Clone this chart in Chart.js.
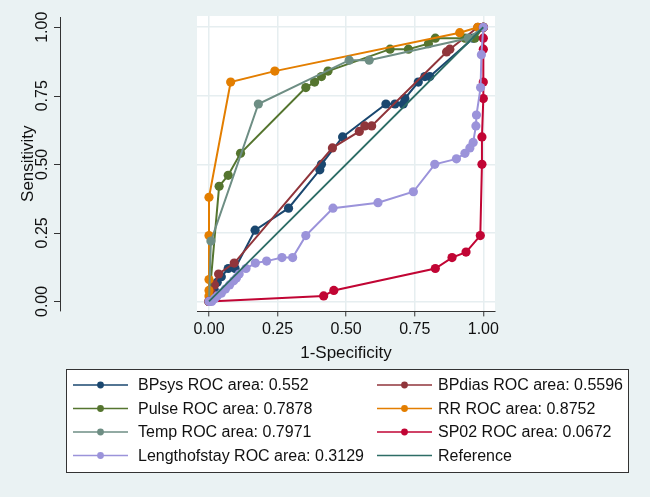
<!DOCTYPE html>
<html>
<head>
<meta charset="utf-8">
<title>ROC comparison</title>
<script src="https://cdn.jsdelivr.net/npm/chart.js@4.4.0/dist/chart.umd.min.js"></script>
<style>
  html, body { margin: 0; padding: 0; background: #eaf2f3; }
  #roc { display: block; }
</style>
</head>
<body>
<canvas id="roc" width="650" height="497"></canvas>
<script>
// ==== DATA ====
const seriesNames = ["BPsys", "BPdias", "Pulse", "RR", "Temp", "SP02", "Lengthofstay"];
const rocAreas = ["0.552", "0.5596", "0.7878", "0.8752", "0.7971", "0.0672", "0.3129"];
const seriesColors = ["#1a476f", "#90353b", "#55752f", "#e37e00", "#6e8e84", "#c10534", "#9b93da"];

const bpsysX = [0, 0.02, 0.03, 0.045, 0.07, 0.095, 0.168, 0.29, 0.404, 0.41, 0.487, 0.645, 0.678, 0.708, 0.714, 0.763, 0.787, 0.805, 0.963, 1];
const bpsysY = [0, 0.04, 0.07, 0.09, 0.12, 0.12, 0.26, 0.34, 0.48, 0.50, 0.60, 0.72, 0.72, 0.72, 0.74, 0.80, 0.82, 0.82, 0.96, 1];

const bpdiasX = [0, 0.01, 0.02, 0.035, 0.092, 0.45, 0.548, 0.568, 0.593, 0.866, 0.878, 0.98, 1];
const bpdiasY = [0, 0.03, 0.06, 0.10, 0.14, 0.56, 0.62, 0.64, 0.64, 0.91, 0.92, 1.0, 1];

const pulseX = [0, 0.037, 0.07, 0.115, 0.353, 0.385, 0.41, 0.434, 0.66, 0.727, 0.80, 0.825, 0.933, 0.969, 1];
const pulseY = [0, 0.42, 0.46, 0.54, 0.78, 0.80, 0.82, 0.84, 0.92, 0.92, 0.94, 0.96, 0.96, 0.96, 1];

const rrX = [0, 0, 0, 0, 0, 0, 0.079, 0.24, 0.914, 0.98, 1];
const rrY = [0, 0.02, 0.04, 0.08, 0.24, 0.38, 0.80, 0.84, 0.98, 1.0, 1];

const tempX = [0, 0.007, 0.18, 0.511, 0.584, 0.945, 1];
const tempY = [0, 0.22, 0.72, 0.88, 0.88, 0.96, 1];

const sp02X = [0, 0.418, 0.455, 0.825, 0.886, 0.937, 0.989, 0.995, 0.995, 1, 1, 1, 1, 1];
const sp02Y = [0, 0.02, 0.04, 0.12, 0.16, 0.18, 0.24, 0.50, 0.60, 0.74, 0.80, 0.92, 0.96, 1];

const losX = [0, 0.01, 0.02, 0.03, 0.045, 0.06, 0.075, 0.09, 0.1, 0.11, 0.135, 0.169, 0.21, 0.266, 0.305, 0.353, 0.452, 0.616, 0.745, 0.823, 0.902, 0.933, 0.951, 0.963, 0.973, 0.975, 0.99, 0.993, 1];
const losY = [0, 0, 0.01, 0.02, 0.03, 0.045, 0.06, 0.075, 0.085, 0.10, 0.12, 0.14, 0.147, 0.16, 0.16, 0.24, 0.34, 0.36, 0.40, 0.50, 0.52, 0.54, 0.56, 0.58, 0.64, 0.68, 0.78, 0.90, 1];

const referenceX = [0, 1];
const referenceY = [0, 1];
const referenceColor = "#2d6d66";

const axisTicks = [0, 0.25, 0.5, 0.75, 1];
const tickLabels = ["0.00", "0.25", "0.50", "0.75", "1.00"];

const FONT = "'Liberation Sans', Arial, Helvetica, sans-serif";
const INK = "#111111";
const GRID = "#e6eef0";

// ==== DATASETS ====
const seriesX = [bpsysX, bpdiasX, pulseX, rrX, tempX, sp02X, losX];
const seriesY = [bpsysY, bpdiasY, pulseY, rrY, tempY, sp02Y, losY];

function toPoints(xs, ys) {
  return xs.map((x, i) => ({ x, y: ys[i] }));
}

const datasets = seriesNames.map((name, i) => ({
  label: `${name} ROC area: ${rocAreas[i]}`,
  data: toPoints(seriesX[i], seriesY[i]),
  borderColor: seriesColors[i],
  backgroundColor: seriesColors[i],
  borderWidth: 2,
  pointRadius: 4.6,
  pointBorderWidth: 0,
  pointHoverRadius: 4.6,
  showLine: true,
  tension: 0,
  order: 20 - i
}));

datasets.push({
  label: "Reference",
  data: toPoints(referenceX, referenceY),
  borderColor: referenceColor,
  backgroundColor: referenceColor,
  borderWidth: 1.8,
  pointRadius: 0,
  showLine: true,
  order: 1
});

// ==== PLUGINS ====
const plotBackground = {
  id: "plotBackground",
  beforeDraw(chart) {
    const { ctx, chartArea: a } = chart;
    ctx.save();
    ctx.fillStyle = "#ffffff";
    ctx.fillRect(a.left, a.top, a.right - a.left, a.bottom - a.top);
    ctx.restore();
  }
};

// stata puts the y axis well left of the plot region
const leftAxis = {
  id: "leftAxis",
  afterDraw(chart) {
    const { ctx, chartArea: a, scales: { y } } = chart;
    const axisX = a.left - 137;
    ctx.save();
    ctx.strokeStyle = "#333";
    ctx.lineWidth = 1;
    ctx.beginPath();
    ctx.moveTo(axisX + 0.5, a.top + 1);
    ctx.lineTo(axisX + 0.5, a.bottom);
    axisTicks.forEach(v => {
      const py = Math.round(y.getPixelForValue(v)) + 0.5;
      ctx.moveTo(axisX - 6, py);
      ctx.lineTo(axisX + 0.5, py);
    });
    ctx.stroke();

    ctx.fillStyle = INK;
    ctx.textAlign = "center";
    ctx.textBaseline = "alphabetic";
    ctx.font = `16px ${FONT}`;
    axisTicks.forEach((v, i) => {
      ctx.save();
      ctx.translate(axisX - 13.5, y.getPixelForValue(v));
      ctx.rotate(-Math.PI / 2);
      ctx.fillText(tickLabels[i], 0, 0);
      ctx.restore();
    });

    ctx.font = `17px ${FONT}`;
    ctx.translate(axisX - 27.5, (a.top + a.bottom) / 2);
    ctx.rotate(-Math.PI / 2);
    ctx.fillText("Sensitivity", 0, 0);
    ctx.restore();
  }
};

// two-column legend box like stata's
const stataLegend = {
  id: "stataLegend",
  afterDraw(chart) {
    const { ctx } = chart;
    const box = { left: 66, top: 369, right: 628, bottom: 472 };
    const lineStart = [73, 377];
    const textStart = [138, 438];
    ctx.save();
    ctx.fillStyle = "#ffffff";
    ctx.fillRect(box.left, box.top, box.right - box.left, box.bottom - box.top);
    ctx.strokeStyle = "#333";
    ctx.lineWidth = 1;
    ctx.strokeRect(box.left + 0.5, box.top + 0.5, box.right - box.left, box.bottom - box.top);

    ctx.font = `16px ${FONT}`;
    ctx.textAlign = "left";
    ctx.textBaseline = "middle";
    chart.data.datasets.forEach((ds, i) => {
      const col = i % 2;
      const row = Math.floor(i / 2);
      const cy = 385 + row * 23.5;
      const x0 = lineStart[col];
      ctx.strokeStyle = ds.borderColor;
      ctx.lineWidth = 1.5;
      ctx.beginPath();
      ctx.moveTo(x0, cy);
      ctx.lineTo(x0 + 55, cy);
      ctx.stroke();
      if (ds.pointRadius > 0) {
        ctx.fillStyle = ds.borderColor;
        ctx.beginPath();
        ctx.arc(x0 + 27.5, cy, 3.4, 0, Math.PI * 2);
        ctx.fill();
      }
      ctx.fillStyle = INK;
      ctx.fillText(ds.label, textStart[col], cy + 1);
    });
    ctx.restore();
  }
};

// ==== CHART ====
new Chart(document.getElementById("roc"), {
  type: "scatter",
  data: { datasets },
  options: {
    responsive: false,
    animation: false,
    devicePixelRatio: 1,
    events: [],
    layout: { padding: { left: 197, right: 155, top: 16, bottom: 133 } },
    plugins: { legend: { display: false }, tooltip: { enabled: false } },
    scales: {
      x: {
        type: "linear",
        min: -0.0437,
        max: 1.0426,
        afterBuildTicks: s => { s.ticks = axisTicks.map(v => ({ value: v })); },
        ticks: {
          callback: v => tickLabels[axisTicks.indexOf(v)],
          font: { family: FONT, size: 16 },
          color: INK,
          padding: 4,
          maxRotation: 0
        },
        grid: { color: GRID, lineWidth: 1.5, tickLength: 5, tickColor: "#333", tickWidth: 1 },
        border: { display: true, color: "#333", width: 1 },
        title: {
          display: true,
          text: "1-Specificity",
          font: { family: FONT, size: 17 },
          color: INK,
          padding: { top: 0, bottom: 0 }
        }
      },
      y: {
        type: "linear",
        min: -0.0364,
        max: 1.041,
        afterBuildTicks: s => { s.ticks = axisTicks.map(v => ({ value: v })); },
        afterFit: s => { s.width = 0; },
        ticks: { display: false },
        grid: { color: GRID, lineWidth: 1.5, drawTicks: false },
        border: { display: false }
      }
    }
  },
  plugins: [plotBackground, leftAxis, stataLegend]
});
</script>
</body>
</html>
